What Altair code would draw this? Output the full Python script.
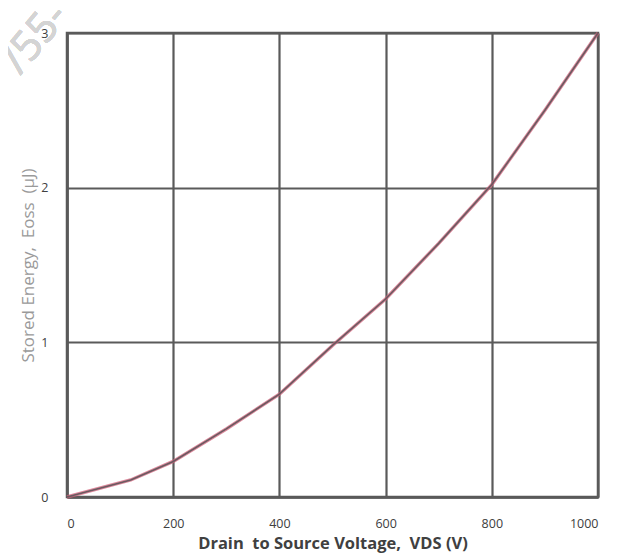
import altair as alt
import pandas as pd

vds = [0, 120, 200, 300, 400, 500, 600, 700, 800, 900, 1000]
eoss = [0, 0.11, 0.23, 0.44, 0.665, 0.98, 1.28, 1.64, 2.02, 2.50, 3.0]

df = pd.DataFrame({"vds": vds, "eoss": eoss})

W, H = 531, 464
FONT = "Open Sans"
NB = "\u00a0"
xtitle = f"Drain{NB}{NB}to{NB}Source{NB}Voltage,{NB}{NB}VDS{NB}(V)"
ytitle = f"Stored{NB}Energy,{NB}{NB}Eoss{NB}{NB}(µJ)"

x = alt.X("vds:Q", scale=alt.Scale(domain=[0, 1000], nice=False),
          axis=alt.Axis(values=[0, 200, 400, 600, 800, 1000], format="d", title=xtitle,
                        grid=True, gridColor="#5a5a5a", gridWidth=2.2, domainColor="#5a5a5a", domainWidth=2.5,
                        ticks=False, labelPadding=20, labelFontSize=12.5, labelColor="#404040", labelFont=FONT,
                        titleFont=FONT, titleFontSize=16.5, titleFontWeight="bold", titleColor="#404040",
                        titlePadding=6))
y = alt.Y("eoss:Q", scale=alt.Scale(domain=[0, 3], nice=False),
          axis=alt.Axis(values=[0, 1, 2, 3], title=ytitle,
                        grid=True, gridColor="#5a5a5a", gridWidth=2.2, domainColor="#5a5a5a", domainWidth=2.5,
                        ticks=False, labelPadding=19, labelFontSize=12.5, labelColor="#404040", labelFont=FONT,
                        titleFont=FONT, titleFontSize=17, titleFontWeight="normal", titleColor="#9a9a9a",
                        titlePadding=3))

wm = alt.Chart(df).mark_text(text="/55-", fontSize=42, font=FONT, color="#d4d4d4", angle=310).encode(
    x=alt.value(-32), y=alt.value(5))

base = alt.Chart(df)
red = base.mark_line(color="#d0607a", strokeWidth=3.4, opacity=0.75).encode(x=x, y=y)
gray = base.mark_line(color="#6a5a60", strokeWidth=1.6).encode(x=x, y=y)

chart = alt.layer(wm, red, gray).properties(
    width=W, height=H,
    autosize=alt.AutoSizeParams(type="none"),
    padding={"left": 59, "top": 25, "right": 18, "bottom": 59},
).configure_view(stroke="#5a5a5a", strokeWidth=2.5)

chart.save("out.html", embed_options={"renderer": "svg", "actions": False})
